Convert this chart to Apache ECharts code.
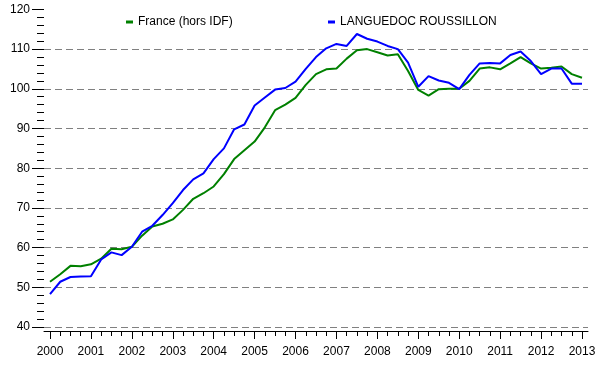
<!DOCTYPE html>
<html>
<head>
<meta charset="utf-8">
<script src="https://cdn.jsdelivr.net/npm/echarts@6/dist/echarts.min.js"></script>
<style>
  html, body { margin: 0; padding: 0; background: #fff; }
  #chart { width: 600px; height: 365px; }
</style>
</head>
<body>
<div id="chart"></div>
<script>
// trimestres (annee + trimestre)
const periods = [
  '2000T1','2000T2','2000T3','2000T4','2001T1','2001T2','2001T3','2001T4',
  '2002T1','2002T2','2002T3','2002T4','2003T1','2003T2','2003T3','2003T4',
  '2004T1','2004T2','2004T3','2004T4','2005T1','2005T2','2005T3','2005T4',
  '2006T1','2006T2','2006T3','2006T4','2007T1','2007T2','2007T3','2007T4',
  '2008T1','2008T2','2008T3','2008T4','2009T1','2009T2','2009T3','2009T4',
  '2010T1','2010T2','2010T3','2010T4','2011T1','2011T2','2011T3','2011T4',
  '2012T1','2012T2','2012T3','2012T4','2013T1'
];
const yearTicks = [2000, 2001, 2002, 2003, 2004, 2005, 2006, 2007, 2008, 2009, 2010, 2011, 2012, 2013];

const franceValues = [
  51.4, 53.3, 55.4, 55.3, 55.8, 57.2, 59.7, 59.6,
  60.2, 63.0, 65.3, 66.0, 67.1, 69.5, 72.3, 73.7,
  75.4, 78.5, 82.3, 84.5, 86.7, 90.3, 94.6, 96.0,
  97.7, 101.0, 103.7, 104.9, 105.1, 107.6, 109.7, 110.0,
  109.2, 108.4, 108.7, 104.5, 99.7, 98.3, 99.9, 100.0,
  100.0, 102.0, 105.1, 105.4, 104.9, 106.4, 108.0, 106.4,
  105.1, 105.3, 105.6, 103.7, 102.8
];
const lrValues = [
  48.3, 51.4, 52.6, 52.7, 52.8, 57.0, 58.8, 58.1,
  60.2, 64.0, 65.5, 68.2, 71.2, 74.5, 77.2, 78.7,
  82.3, 85.0, 89.8, 91.0, 95.8, 97.8, 99.8, 100.2,
  101.8, 105.0, 108.0, 110.2, 111.3, 110.8, 113.8, 112.6,
  111.9, 110.8, 110.0, 106.6, 100.5, 103.2, 102.1, 101.5,
  99.9, 103.5, 106.4, 106.5, 106.4, 108.5, 109.4, 107.0,
  103.7, 105.1, 105.1, 101.3, 101.3
];

// position sur l'axe : annee + (trimestre-1)/4
const periodX = periods.map(p => Number(p.slice(0, 4)) + (Number(p.slice(5)) - 1) / 4);
const quarterTicks = periodX.filter(x => !yearTicks.includes(x));

const toPairs = values => values.map((v, i) => [periodX[i], v]);

const chart = echarts.init(document.getElementById('chart'));
const font = 'Liberation Sans, Arial, sans-serif';
const xMin = 1999.853, xMax = 2013.147;

chart.setOption({
  animation: false,
  textStyle: { fontFamily: font },
  grid: { left: 44, right: 12, top: 9.4, bottom: 38, containLabel: false },
  legend: [
    {
      data: ['France (hors IDF)'],
      left: 121, top: 11,
      icon: 'rect', itemWidth: 7, itemHeight: 3,
      textStyle: { fontSize: 12, color: '#000', fontFamily: font }
    },
    {
      data: ['LANGUEDOC ROUSSILLON'],
      left: 323, top: 11,
      icon: 'rect', itemWidth: 7, itemHeight: 3,
      textStyle: { fontSize: 12, color: '#000', fontFamily: font }
    }
  ],
  xAxis: [
    {
      type: 'value',
      min: xMin, max: xMax,
      offset: 4,
      splitLine: { show: false },
      axisLine: { show: true, lineStyle: { color: '#000', width: 1 } },
      axisTick: { show: true, customValues: yearTicks, length: 8, lineStyle: { color: '#000' } },
      axisLabel: {
        customValues: yearTicks, margin: 15, fontSize: 12, color: '#000',
        formatter: v => String(Math.round(v))
      }
    },
    {
      type: 'value',
      min: xMin, max: xMax,
      position: 'bottom',
      offset: 4,
      splitLine: { show: false },
      axisLine: { show: false },
      axisTick: { show: true, customValues: quarterTicks, length: 5, lineStyle: { color: '#000' } },
      axisLabel: { show: false }
    }
  ],
  yAxis: {
    type: 'value',
    min: 40, max: 120, interval: 10,
    axisLine: { show: false },
    axisTick: { show: true, length: 12, lineStyle: { color: '#000' } },
    minorTick: { show: true, splitNumber: 5, length: 7, lineStyle: { color: '#000' } },
    axisLabel: { margin: 14, fontSize: 12, color: '#000' },
    splitLine: {
      show: true, showMinLine: true, showMaxLine: false,
      lineStyle: { color: '#808080', type: [7, 4], width: 1.2 }
    }
  },
  series: [
    {
      name: 'France (hors IDF)',
      type: 'line',
      data: toPairs(franceValues),
      showSymbol: false,
      color: '#008000',
      lineStyle: { width: 2, color: '#008000' }
    },
    {
      name: 'LANGUEDOC ROUSSILLON',
      type: 'line',
      data: toPairs(lrValues),
      showSymbol: false,
      color: '#0000ff',
      lineStyle: { width: 2, color: '#0000ff' }
    }
  ]
});
</script>
</body>
</html>
